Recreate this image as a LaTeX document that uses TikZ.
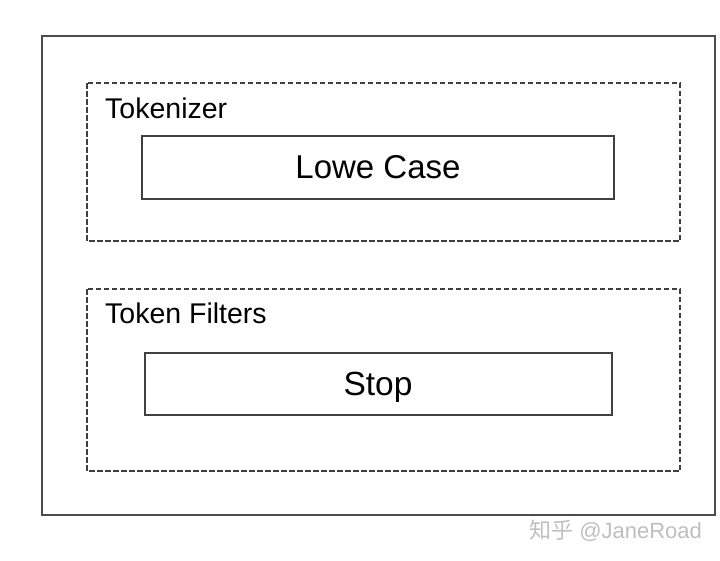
\documentclass[tikz,border=0pt]{standalone}
\usepackage{fontspec}
\setmainfont{Liberation Sans}
\newfontfamily\cjk{Noto Sans CJK SC}
\begin{document}
\begin{tikzpicture}[x=1pt,y=-1pt,
  outerbox/.style={draw=black!70,line width=1.8pt},
  dashbox/.style={draw=black!75,line width=1.3pt,dash pattern=on 5.5pt off 2.5pt},
  innerbox/.style={draw=black!75,line width=1.3pt,inner sep=0pt},
  lbl/.style={font=\fontsize{28.5}{32}\selectfont,anchor=base west,inner sep=0pt},
  boxtext/.style={font=\fontsize{33}{38}\selectfont,anchor=base,inner sep=0pt}]
\useasboundingbox (0,0) rectangle (720,560);
\fill[white] (0,0) rectangle (720,560);
\draw[outerbox] (42,36) rectangle (715,515);
\draw[dashbox] (87,83) rectangle (680,241);
\draw[dashbox] (87,289) rectangle (680,471);
\node[innerbox,minimum width=472pt,minimum height=63pt] (lc) at (378,167.5) {};
\node[innerbox,minimum width=467pt,minimum height=62pt] (st) at (378.5,384) {};
\node[lbl] (tk) at (105,118) {Tokenizer};
\node[lbl] (tf) at (105,323) {Token Filters};
\node[boxtext] (lct) at (378,178) {Lowe Case};
\node[boxtext,font=\fontsize{33.5}{38}\selectfont] (stt) at (378,395) {Stop};
\node[font=\fontsize{22}{25}\selectfont,text=black!25,anchor=base west,inner sep=0pt] (wm) at (529,538) {{\cjk 知乎} @JaneRoad};
\end{tikzpicture}
\end{document}
